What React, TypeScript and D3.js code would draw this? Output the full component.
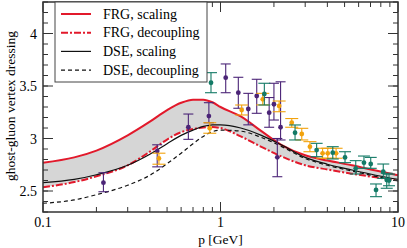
import { useEffect, useRef } from "react"
import * as d3 from "d3"

// momentum grid (GeV) shared by all four model curves
const pGrid = [0.1, 0.15, 0.2, 0.3, 0.4, 0.5, 0.6, 0.7, 0.8, 0.9, 1.0, 1.3, 1.7, 2.2, 3, 4, 5.5, 7.5, 10]
const frgScaling = [2.77, 2.82, 2.885, 3.03, 3.16, 3.27, 3.34, 3.37, 3.37, 3.345, 3.3, 3.21, 3.07, 2.94, 2.84, 2.79, 2.745, 2.695, 2.65]
const frgDecoupling = [2.535, 2.585, 2.64, 2.745, 2.875, 2.99, 3.06, 3.09, 3.105, 3.11, 3.1, 3.02, 2.92, 2.83, 2.745, 2.705, 2.665, 2.63, 2.6]
const dseScaling = [2.58, 2.61, 2.655, 2.745, 2.85, 2.95, 3.03, 3.08, 3.115, 3.13, 3.13, 3.1, 3.03, 2.94, 2.82, 2.755, 2.7, 2.65, 2.61]
const dseDecoupling = [2.383, 2.415, 2.465, 2.555, 2.65, 2.76, 2.86, 2.95, 3.02, 3.065, 3.08, 3.07, 3.01, 2.925, 2.81, 2.745, 2.69, 2.64, 2.595]

// lattice points: [p, value, lower, upper]
const purplePoints = [
  [0.219, 2.579, 2.493, 2.674],
  [0.44, 2.88, 2.73, 2.94],
  [0.659, 3.107, 2.992, 3.233],
  [0.86, 3.214, 3.15, 3.341],
  [1.07, 3.579, 3.436, 3.71],
  [1.26, 3.436, 3.288, 3.583],
  [1.434, 3.281, 3.13, 3.43],
  [1.6, 3.405, 3.24, 3.564],
  [1.88, 3.246, 3.107, 3.39],
  [2.0, 3.326, 3.176, 3.526],
  [2.09, 2.821, 2.636, 3.0],
  [2.18, 3.107, 2.986, 3.54],
]
const orangePoints = [
  [0.45, 2.81, 2.755, 2.86],
  [0.87, 3.097, 3.05, 3.15],
  [1.316, 3.271, 3.224, 3.319],
  [1.73, 3.373, 3.32, 3.43],
  [2.14, 3.31, 3.255, 3.357],
  [2.52, 3.15, 3.107, 3.19],
  [2.87, 3.043, 2.986, 3.097],
  [3.19, 2.922, 2.874, 2.97],
  [3.76, 2.859, 2.812, 2.907],
  [4.02, 2.859, 2.812, 2.907],
  [4.48, 2.859, 2.812, 2.907],
]
const tealPoints = [
  [0.884, 3.531, 3.436, 3.627],
  [1.766, 3.424, 3.319, 3.526],
  [2.63, 3.055, 2.986, 3.129],
  [3.48, 2.89, 2.827, 2.954],
  [4.29, 2.865, 2.805, 2.922],
  [5.03, 2.82, 2.77, 2.874],
  [5.78, 2.716, 2.662, 2.789],
  [6.43, 2.77, 2.716, 2.833],
  [7.02, 2.757, 2.716, 2.82],
  [7.52, 2.51, 2.446, 2.567],
  [8.26, 2.684, 2.62, 2.757],
  [8.64, 2.605, 2.526, 2.669],
  [8.9, 2.6, 2.55, 2.66],
]

const xMajor = [0.1, 1, 10]
const xMinor = [0.2, 0.3, 0.4, 0.5, 0.6, 0.7, 0.8, 0.9, 2, 3, 4, 5, 6, 7, 8, 9]
const yMajor = [2.5, 3, 3.5, 4]
const yMinor = d3.range(23, 44).map((d) => d / 10)

const legendItems = [
  { label: "FRG, scaling", color: "#e2192b", width: 2, dash: "none" },
  { label: "FRG, decoupling", color: "#e2192b", width: 2, dash: "7,2,2,2" },
  { label: "DSE, scaling", color: "#111", width: 1.2, dash: "none" },
  { label: "DSE, decoupling", color: "#111", width: 1.2, dash: "4,3" },
]
const curves = [frgScaling, frgDecoupling, dseScaling, dseDecoupling]

export default function App() {
  const svgRef = useRef<SVGSVGElement>(null)

  useEffect(() => {
    if (!svgRef.current) return
    const svg = d3.select(svgRef.current)
    svg.selectAll("*").remove()

    const left = 43, right = 398, top = 2, bottom = 212
    const x = d3.scaleLog().domain([0.1, 10]).range([left, right])
    const y = d3.scaleLinear().domain([2.3, 4.3]).range([bottom, top])

    // band between FRG scaling and decoupling
    const area = d3
      .area<number>()
      .x((_, i) => x(pGrid[i]))
      .y0((_, i) => y(frgDecoupling[i]))
      .y1((_, i) => y(frgScaling[i]))
      .curve(d3.curveMonotoneX)
    svg.append("path").datum(pGrid).attr("d", area).attr("fill", "#d6d6d6")

    const line = (vals: number[]) =>
      d3
        .line<number>()
        .x((_, i) => x(pGrid[i]))
        .y((d) => y(d))
        .curve(d3.curveMonotoneX)(vals)

    curves.forEach((vals, k) => {
      const it = legendItems[k]
      svg
        .append("path")
        .attr("d", line(vals))
        .attr("fill", "none")
        .attr("stroke", it.color)
        .attr("stroke-width", it.width)
        .attr("stroke-dasharray", it.dash)
    })

    // lattice data
    const sets: [number[][], string, number][] = [
      [purplePoints, "#4b2477", 5],
      [orangePoints, "#f2a20c", 6.5],
      [tealPoints, "#137a66", 6],
    ]
    sets.forEach(([pts, color, cap]) => {
      const g = svg.append("g").attr("stroke", color).attr("fill", color)
      pts.forEach(([p, v, lo, hi]) => {
        const cx = x(p)
        g.append("line").attr("x1", cx).attr("x2", cx).attr("y1", y(lo)).attr("y2", y(hi)).attr("stroke-width", 1.1)
        g.append("line").attr("x1", cx - cap).attr("x2", cx + cap).attr("y1", y(lo)).attr("y2", y(lo)).attr("stroke-width", 1.1)
        g.append("line").attr("x1", cx - cap).attr("x2", cx + cap).attr("y1", y(hi)).attr("y2", y(hi)).attr("stroke-width", 1.1)
        g.append("circle").attr("cx", cx).attr("cy", y(v)).attr("r", 2.4).attr("stroke", "none")
      })
    })

    // frame and inward ticks
    const axisColor = "#333"
    svg
      .append("rect")
      .attr("x", left)
      .attr("y", top)
      .attr("width", right - left)
      .attr("height", bottom - top)
      .attr("fill", "none")
      .attr("stroke", axisColor)
      .attr("stroke-width", 1.5)

    const tk = svg.append("g").attr("stroke", axisColor).attr("stroke-width", 1)
    const xTick = (vals: number[], len: number) =>
      vals.forEach((d) => {
        tk.append("line").attr("x1", x(d)).attr("x2", x(d)).attr("y1", bottom).attr("y2", bottom - len)
        tk.append("line").attr("x1", x(d)).attr("x2", x(d)).attr("y1", top).attr("y2", top + len)
      })
    const yTick = (vals: number[], len: number) =>
      vals.forEach((d) => {
        tk.append("line").attr("x1", left).attr("x2", left + len).attr("y1", y(d)).attr("y2", y(d))
        tk.append("line").attr("x1", right).attr("x2", right - len).attr("y1", y(d)).attr("y2", y(d))
      })
    xTick(xMinor, 5)
    xTick(xMajor, 10)
    yTick(yMinor, 5)
    yTick(yMajor, 10)

    svg
      .selectAll(".xl")
      .data(xMajor)
      .join("text")
      .attr("x", (d) => x(d))
      .attr("y", 227)
      .attr("text-anchor", "middle")
      .attr("font-size", 14)
      .text((d) => String(d))

    svg
      .selectAll(".yl")
      .data(yMajor)
      .join("text")
      .attr("x", 37)
      .attr("y", (d) => y(d) + 5)
      .attr("text-anchor", "end")
      .attr("font-size", 14)
      .text((d) => String(d))

    svg
      .append("text")
      .attr("x", (left + right) / 2)
      .attr("y", 244)
      .attr("text-anchor", "middle")
      .attr("font-size", 13.5)
      .text("p [GeV]")

    svg
      .append("text")
      .attr("transform", "translate(15,106) rotate(-90)")
      .attr("text-anchor", "middle")
      .attr("font-size", 13.5)
      .text("ghost-gluon vertex dressing")

    // legend
    const lg = svg.append("g")
    lg.append("rect")
      .attr("x", 55)
      .attr("y", top)
      .attr("width", 152)
      .attr("height", 80)
      .attr("fill", "white")
      .attr("stroke", "#444")
      .attr("stroke-width", 1)
    legendItems.forEach((it, i) => {
      const ly = 14 + i * 18.7
      lg.append("line")
        .attr("x1", 61)
        .attr("x2", 91)
        .attr("y1", ly)
        .attr("y2", ly)
        .attr("stroke", it.color)
        .attr("stroke-width", it.width)
        .attr("stroke-dasharray", it.dash)
      lg.append("text")
        .attr("x", 103)
        .attr("y", ly + 4.5)
        .attr("font-size", 14)
        .text(it.label)
    })
  }, [])

  return (
    <svg
      ref={svgRef}
      width={407}
      height={248}
      style={{
        position: "absolute",
        left: 0,
        top: 0,
        background: "white",
        fontFamily: "'Liberation Serif', 'Times New Roman', Times, serif",
      }}
    />
  )
}
